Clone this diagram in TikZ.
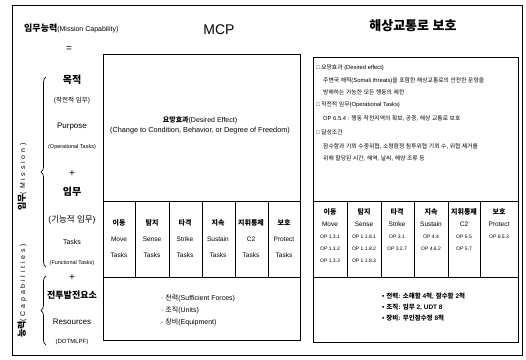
\documentclass[tikz,border=0pt]{standalone}
\usepackage{fontspec}
\setmainfont{Liberation Sans}
\newfontfamily\krfont{Noto Sans CJK KR}
\newfontfamily\spacedfont[LetterSpace=40]{Liberation Sans}
\usetikzlibrary{decorations.pathreplacing}

% Hangul in the Korean font, all else in Liberation Sans
\XeTeXinterchartokenstate=1
\newXeTeXintercharclass\krclass
\newcount\krcode
\krcode="AC00
\loop
	\XeTeXcharclass\krcode=\krclass
	\ifnum\krcode<"D7A3
	\advance\krcode by 1
\repeat
\XeTeXinterchartoks 0 \krclass = {\begingroup\krfont}
\XeTeXinterchartoks 4095 \krclass = {\begingroup\krfont}
\XeTeXinterchartoks \krclass 0 = {\endgroup}
\XeTeXinterchartoks \krclass 4095 = {\endgroup}

\begin{document}
\begin{tikzpicture}[x=1pt,y=-1pt,node distance=20pt,
		every node/.style={inner sep=0pt},
		head node/.style={font=\bfseries\fontsize{9}{9}\selectfont},
		small node/.style={font=\fontsize{5.5}{5.5}\selectfont},
		task node/.style={align=center,font=\fontsize{6.5}{16}\selectfont},
		op node/.style={align=center,anchor=north,font=\fontsize{5}{12}\selectfont},
		note node/.style={anchor=west,font=\fontsize{5.8}{5.8}\selectfont},
		res node/.style={anchor=west,align=left,font=\fontsize{7}{12}\selectfont},
		frame/.style={draw,line width=0.5pt},
		brace line/.style={draw,line width=0.7pt,decorate,
			decoration={brace,amplitude=5pt}}]
	
	\useasboundingbox (0,0) rectangle (526,359);
	\draw[frame] (12,5) rectangle (522,355);
	
	% titles
	\node[anchor=west,font=\fontsize{7}{7}\selectfont] (cap) at (24,28)
		{{\bfseries\fontsize{9}{9}\selectfont 임무능력}(Mission Capability)};
	\node[font=\fontsize{14}{14}\selectfont] (mcp) at (219,30) {MCP};
	\node[font=\bfseries\fontsize{13}{13}\selectfont] (slp) at (413,26) {해상교통로 보호};
	
	% left column
	\node (eq) at (69,49) {=};
	\node[head node,font=\bfseries\fontsize{10}{10}\selectfont] (purp) at (72,80) {목적};
	\node[small node,font=\fontsize{6.5}{6.5}\selectfont] (purpk) [below of=purp] {(작전적 임무)};
	\node[font=\fontsize{8}{8}\selectfont] (purpe) [below of=purpk,node distance=27pt] {Purpose};
	\node[small node] (purpo) [below of=purpe] {(Operational Tasks)};
	\node (plus1) [below of=purpo,node distance=27pt] {+};
	\node[head node,font=\bfseries\fontsize{10}{10}\selectfont] (task) [below of=plus1,node distance=18pt] {임무};
	\node[font=\fontsize{8.5}{8.5}\selectfont] (taskk) [below of=task,node distance=28pt] {(기능적 임무)};
	\node[font=\fontsize{7}{7}\selectfont] (taske) [below of=taskk,node distance=22pt] {Tasks};
	\node[small node] (taskf) [below of=taske,node distance=21pt] {(Functional Tasks)};
	\node (plus2) [below of=taskf,node distance=15pt] {+};
	\node[head node] (res) [below of=plus2,node distance=17pt] {전투발전요소};
	\node[font=\fontsize{8}{8}\selectfont] (rese) [below of=res,node distance=27pt] {Resources};
	\node[small node,font=\fontsize{6}{6}\selectfont] (resd) [below of=rese] {(DOTMLPF)};
	
	% braces and side labels
	\coordinate (b1top) at (46,77);
	\coordinate (b1bot) at (46,267);
	\coordinate (b2top) at (46,276);
	\coordinate (b2bot) at (46,345);
	\draw[brace line] (b1bot) -- (b1top);
	\draw[brace line] (b2bot) -- (b2top);
	\node[rotate=90] (mis) at (22,177)
		{{\bfseries\fontsize{9}{9}\selectfont 임무}{\spacedfont\fontsize{7}{7}\selectfont (Mission)}};
	\node[rotate=90] (capa) at (22,291)
		{{\bfseries\fontsize{9}{9}\selectfont 능력}{\spacedfont\fontsize{7}{7}\selectfont (Capabilities)}};
	
	% MCP panel
	\draw[frame] (103,54) rectangle (300,340);
	\draw[frame] (103,201) -- (300,201) (103,277) -- (300,277);
	\foreach \x in {135,169,202,235,268}
		\draw[frame] (\x,201) -- (\x,277);
	\node[font=\fontsize{7}{7}\selectfont] (eff) at (200,120) {{\bfseries 요망효과}(Desired Effect)};
	\node[font=\fontsize{7.3}{7.3}\selectfont] (effs) [below of=eff,node distance=11pt]
		{(Change to Condition, Behavior, or Degree of Freedom)};
	\foreach \kr/\en [count=\i] in {이동/Move,탐지/Sense,타격/Strike,지속/Sustain,지휘통제/C2,보호/Protect}
		\node[task node] (mt\i) at ({86+33*\i},239) {{\bfseries\fontsize{7}{16}\selectfont\kr}\\\en\\Tasks};
	\node[res node] (mres) at (161,310) {· 전력(Sufficient Forces)\\· 조직(Units)\\· 장비(Equipment)};
	
	% sea lane panel
	\draw[frame] (313,57) rectangle (518,342);
	\draw[frame] (313,201) -- (518,201) (313,277) -- (518,277);
	\foreach \x in {347,381,414,448,480}
		\draw[frame] (\x,201) -- (\x,277);
	\node[note node] (n1) at (316,68) {□ 요망효과 (Desired effect)};
	\node[note node] (n2) at (323,81) {주변국 해적(Somali threats)을 포함한 해상교통로의 안전한 운항을};
	\node[note node] (n3) at (323,92) {방해하는 가능한 모든 행동의 제한};
	\node[note node] (n4) at (316,105) {□ 작전적 임무(Operational Tasks)};
	\node[note node] (n5) at (323,118) {OP 6.5.4 : 행동 작전지역의 확보, 공중, 해상 교통로 보호};
	\node[note node] (n6) at (316,132) {□ 달성조건};
	\node[note node] (n7) at (323,146) {잠수함과 기뢰 수중위협, 소형함정 침투위협 기뢰 수, 위협 제거를};
	\node[note node] (n8) at (323,158) {위해 할당된 시간, 해역, 날씨, 해양 조류 등};
	\foreach \x/\kr/\en/\op [count=\i] in {330/이동/Move/{OP 1.3.1\\OP 1.3.2\\OP 1.3.3},
			364/탐지/Sense/{OP 1.1.8.1\\OP 1.1.8.2\\OP 1.1.8.3},
			397/타격/Strike/{OP 3.1\\OP 3.2.7},
			431/지속/Sustain/{OP 4.4\\OP 4.6.2},
			464/지휘통제/C2/{OP 5.5\\OP 5.7},
			499/보호/Protect/{OP 6.5.3}}
		\node[op node] (rt\i) at (\x,208)
			{{\bfseries\fontsize{7}{12}\selectfont\kr}\\{\fontsize{6.5}{12}\selectfont\en}\\\op};
	\node[res node,font=\bfseries\fontsize{6.5}{11}\selectfont] (rres) at (382,307)
		{• 전력: 소해함 4척, 잠수함 2척\\• 조직: 임무 2, UDT 8\\• 장비: 무인잠수정 8척};
\end{tikzpicture}
\end{document}
